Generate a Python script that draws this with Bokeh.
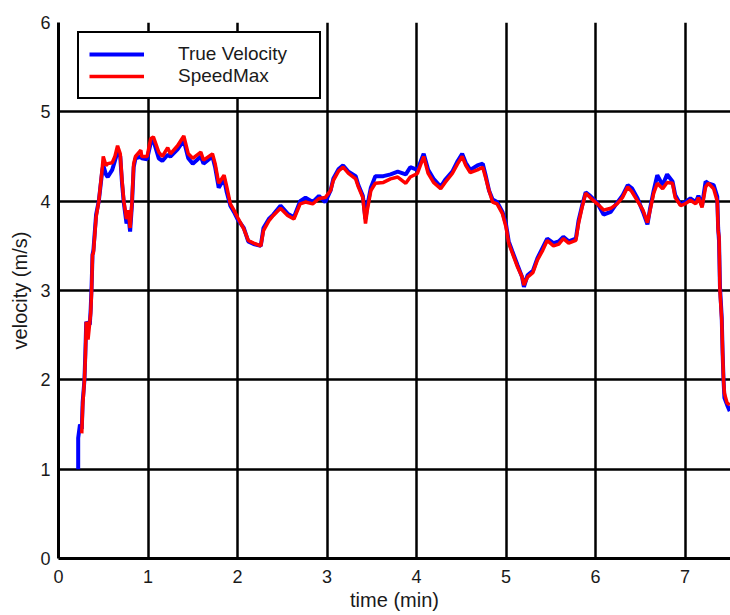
from bokeh.plotting import figure
from bokeh.models import ColumnDataSource, Legend, LegendItem, FixedTicker, Range1d
from bokeh.embed import file_html
from bokeh.resources import INLINE

# time (min) and velocity (m/s)
t_red = [0.26,0.27,0.29,0.30,0.31,0.33,0.35,0.36,0.37,0.38,0.39,0.42,0.45,0.49,0.50,0.53,0.55,0.60,0.63,0.66,
         0.69,0.71,0.73,0.76,0.78,0.80,0.82,0.84,0.86,0.92,0.93,0.99,1.03,1.06,1.12,1.16,1.22,1.25,1.33,1.40,
         1.45,1.50,1.59,1.62,1.72,1.75,1.79,1.85,1.88,1.92,1.96,2.00,2.07,2.12,2.18,2.26,2.29,2.35,2.40,2.48,
         2.56,2.63,2.70,2.76,2.84,2.91,2.98,3.04,3.07,3.13,3.18,3.24,3.32,3.35,3.40,3.43,3.45,3.49,3.54,3.63,
         3.71,3.79,3.88,3.93,4.01,4.08,4.13,4.19,4.27,4.32,4.40,4.46,4.51,4.55,4.60,4.68,4.74,4.77,4.81,4.85,
         4.90,4.96,5.00,5.03,5.07,5.13,5.18,5.20,5.24,5.30,5.35,5.41,5.46,5.53,5.59,5.64,5.70,5.78,5.81,5.85,
         5.89,5.94,6.02,6.09,6.17,6.24,6.30,6.36,6.41,6.47,6.53,6.58,6.61,6.65,6.69,6.75,6.80,6.86,6.89,6.95,
         7.00,7.06,7.12,7.15,7.19,7.23,7.26,7.32,7.36,7.37,7.38,7.39,7.41,7.42,7.43,7.44,7.47,7.50]
v_red = [1.40,1.70,2.00,2.25,2.65,2.45,2.65,2.75,3.00,3.40,3.42,3.82,4.00,4.38,4.50,4.40,4.42,4.43,4.50,4.62,
         4.53,4.23,4.00,3.80,3.90,3.70,3.97,4.42,4.50,4.57,4.50,4.50,4.70,4.72,4.55,4.50,4.60,4.53,4.62,4.73,
         4.53,4.48,4.55,4.46,4.53,4.42,4.20,4.29,4.16,3.97,3.90,3.82,3.69,3.56,3.53,3.50,3.67,3.78,3.84,3.92,
         3.84,3.80,3.97,3.99,3.97,4.03,4.04,4.12,4.23,4.34,4.38,4.31,4.25,4.16,4.04,3.75,3.90,4.12,4.20,4.21,
         4.25,4.27,4.20,4.27,4.31,4.50,4.31,4.21,4.14,4.21,4.31,4.42,4.50,4.40,4.32,4.35,4.38,4.27,4.12,3.99,
         3.97,3.86,3.71,3.53,3.42,3.26,3.15,3.06,3.15,3.20,3.34,3.45,3.56,3.50,3.52,3.58,3.53,3.56,3.75,3.93,
         4.09,4.04,3.97,3.90,3.92,3.97,4.04,4.16,4.10,4.00,3.90,3.76,3.90,4.09,4.20,4.14,4.21,4.20,4.04,3.95,
         3.97,4.01,3.97,4.04,3.93,4.16,4.20,4.14,4.00,3.67,3.60,3.00,2.67,2.30,2.00,1.85,1.74,1.72]

t_blue = [0.22,0.22,0.24] + t_red
v_blue = [1.00,1.35,1.50,
          1.45,1.75,2.00,2.30,2.65,2.62,2.62,2.80,3.05,3.40,3.45,3.85,4.00,4.35,4.40,4.30,4.27,4.35,4.45,4.55,
          4.50,4.20,3.98,3.75,3.85,3.66,3.95,4.38,4.48,4.50,4.48,4.47,4.65,4.68,4.48,4.45,4.52,4.50,4.58,4.68,
          4.48,4.42,4.50,4.42,4.50,4.38,4.15,4.25,4.10,3.95,3.88,3.80,3.70,3.55,3.52,3.50,3.70,3.80,3.85,3.95,
          3.86,3.82,4.00,4.04,3.99,4.06,3.99,4.12,4.25,4.36,4.40,4.33,4.28,4.18,4.06,3.80,3.95,4.15,4.28,4.28,
          4.30,4.33,4.30,4.38,4.35,4.53,4.35,4.25,4.16,4.24,4.33,4.45,4.53,4.43,4.35,4.40,4.42,4.30,4.12,4.02,
          3.99,3.88,3.74,3.55,3.44,3.28,3.15,3.04,3.17,3.22,3.36,3.48,3.58,3.53,3.55,3.60,3.55,3.58,3.78,3.95,
          4.10,4.06,3.98,3.85,3.88,3.98,4.06,4.18,4.14,4.03,3.88,3.74,3.92,4.12,4.29,4.18,4.30,4.22,4.07,3.96,
          3.99,4.03,3.99,4.06,3.95,4.22,4.20,4.18,4.05,3.70,3.55,3.05,2.70,2.30,2.00,1.80,1.72,1.65]

x_ticks = [0, 1, 2, 3, 4, 5, 6, 7]
y_ticks = [0, 1, 2, 3, 4, 5, 6]
series_labels = ["True Velocity", "SpeedMax"]

FONT = "Liberation Sans"

p = figure(width=730, height=615, output_backend="svg", toolbar_location=None,
           x_range=Range1d(0, 7.508), y_range=Range1d(0, 6),
           min_border_left=58, min_border_right=0, min_border_top=22, min_border_bottom=57)
p.outline_line_color = None
p.background_fill_color = "white"
p.border_fill_color = "white"

blue_src = ColumnDataSource(dict(t=t_blue, v=v_blue))
red_src = ColumnDataSource(dict(t=t_red, v=v_red))
rb = p.line("t", "v", source=blue_src, line_color="#0000ff", line_width=4)
rr = p.line("t", "v", source=red_src, line_color="#ff0000", line_width=3.5)

for ax in (p.xaxis, p.yaxis):
    ax.axis_line_width = 3
    ax.axis_line_color = "black"
    ax.major_tick_in = 0
    ax.major_tick_out = 0
    ax.minor_tick_in = 0
    ax.minor_tick_out = 0
    ax.major_label_text_font = FONT
    ax.major_label_text_font_size = "18px"
    ax.major_label_text_color = "#1a1a1a"
    ax.axis_label_text_font = FONT
    ax.axis_label_text_font_size = "20px"
    ax.axis_label_text_font_style = "normal"
    ax.axis_label_text_color = "#1a1a1a"

p.xaxis.ticker = FixedTicker(ticks=x_ticks)
p.yaxis.ticker = FixedTicker(ticks=y_ticks)
p.xaxis.axis_label = "time (min)"
p.yaxis.axis_label = "velocity (m/s)"
p.xaxis.major_label_standoff = 11
p.yaxis.major_label_standoff = 8
p.xaxis.axis_label_standoff = 3
p.yaxis.axis_label_standoff = 6

p.xgrid.ticker = FixedTicker(ticks=x_ticks)
p.ygrid.ticker = FixedTicker(ticks=y_ticks)
for g in (p.xgrid, p.ygrid):
    g.grid_line_color = "black"
    g.grid_line_width = 2.5
    g.grid_line_alpha = 1.0

legend = Legend(items=[LegendItem(label=series_labels[0], renderers=[rb]),
                       LegendItem(label=series_labels[1], renderers=[rr])],
                location=(19, 459), margin=0, padding=10, spacing=0,
                glyph_width=55, glyph_height=20, label_height=20, label_width=131,
                label_standoff=34, label_text_font=FONT, label_text_font_size="19px",
                label_text_color="#1a1a1a", border_line_color="black", border_line_width=2.5,
                border_line_alpha=1.0,
                background_fill_color="white", background_fill_alpha=1.0)
p.add_layout(legend, "center")

open("out.html", "w").write(file_html(p, INLINE))
